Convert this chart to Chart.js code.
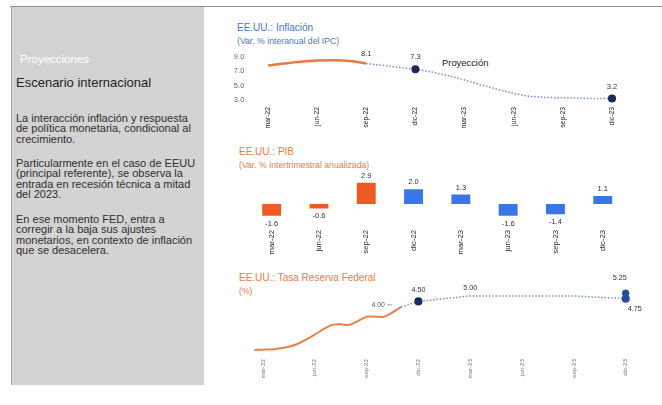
<!DOCTYPE html>
<html lang="es">
<head>
<meta charset="utf-8">
<script src="https://cdn.jsdelivr.net/npm/chart.js@4/dist/chart.umd.min.js"></script>
<style>
  html, body { margin: 0; padding: 0; }
  body { width: 662px; height: 405px; background: #fff; position: relative; overflow: hidden;
         font-family: "Liberation Sans", Arial, sans-serif; }
  .topline { position: absolute; left: 10px; top: 6px; width: 652px; height: 1px; background: #8e8e8e; }
  .panel { position: absolute; left: 11px; top: 7px; width: 192px; height: 378px; background: #d3d3d3;
           border-left: 1px solid #a8a8a8; }
  .txt { position: absolute; white-space: nowrap; }
  .kicker { left: 20px; top: 52px; font-size: 11.5px; line-height: 14px; color: #fff; }
  .heading { left: 16px; top: 75px; font-size: 13px; line-height: 16px; color: #222; }
  .para { left: 16px; font-size: 11px; line-height: 10.6px; color: #2e2e2e; }
  .ctitle { font-size: 10px; line-height: 12px; }
  .csub { font-size: 8.7px; line-height: 10px; }
  .blue { color: #4a78c2; }
  .orange { color: #ee7a3c; }
  canvas { position: absolute; }
</style>
</head>
<body>
<div class="topline"></div>
<div class="panel"></div>
<div class="txt kicker">Proyecciones</div>
<div class="txt heading">Escenario internacional</div>
<div class="txt para" style="top:112.5px">La interacción inflación y respuesta<br>de política monetaria, condicional al<br>crecimiento.</div>
<div class="txt para" style="top:157.5px">Particularmente en el caso de EEUU<br>(principal referente), se observa la<br>entrada en recesión técnica a mitad<br>del 2023.</div>
<div class="txt para" style="top:213.5px">En ese momento FED, entra a<br>corregir a la baja sus ajustes<br>monetarios, en contexto de inflación<br>que se desacelera.</div>

<div class="txt ctitle blue" style="left:237px;top:22px">EE.UU.: Inflación</div>
<div class="txt csub blue" style="left:237px;top:36px">(Var. % interanual del IPC)</div>
<div class="txt" style="left:442px;top:57px;font-size:9.4px;line-height:12px;color:#222">Proyección</div>

<div class="txt ctitle orange" style="left:239px;top:146px">EE.UU.: PIB</div>
<div class="txt csub orange" style="left:239px;top:160px">(Var. % intertrimestral anualizada)</div>

<div class="txt ctitle orange" style="left:239px;top:272px">EE.UU.: Tasa Reserva Federal</div>
<div class="txt csub orange" style="left:239px;top:286px">(%)</div>

<canvas id="cInfl" width="430" height="94" style="left:215px;top:46px"></canvas>
<canvas id="cPib" width="430" height="96" style="left:215px;top:170px"></canvas>
<canvas id="cFed" width="430" height="124" style="left:215px;top:262px"></canvas>

<script>
// ---- shared quarter axis (months counted from mar-22) ----
const quarterLabels = ['mar-22', 'jun-22', 'sep-22', 'dic-22', 'mar-23', 'jun-23', 'sep-23', 'dic-23'];
const quarterMonths = [0, 3, 6, 9, 12, 15, 18, 21];

// ---- US inflation, % y/y CPI ----
const inflActualMonths = [0, 1, 2, 3, 4, 5, 6];
const inflActual       = [7.8, 8.1, 8.35, 8.5, 8.55, 8.45, 8.1];
const inflActualLabels = [null, null, null, null, null, null, '8.1'];
const inflProjMonths   = [6, 9, 10, 11, 12, 13, 14, 15, 16, 17, 18, 19, 20, 21];
const inflProj         = [8.1, 7.3, 6.9, 6.4, 5.8, 5.1, 4.5, 3.9, 3.5, 3.35, 3.3, 3.25, 3.2, 3.2];
const inflProjLabels   = [null, '7.3', null, null, null, null, null, null, null, null, null, null, null, '3.2'];
const inflMarkerMonths = [9, 21];
const inflTicks        = [3, 5, 7, 9];

// ---- US GDP, % q/q annualised ----
const gdpValues = [-1.6, -0.6, 2.9, 2.0, 1.3, -1.6, -1.4, 1.1];
const gdpIsProjection = [false, false, false, true, true, true, true, true];

// ---- Fed funds rate, % ----
const fedActualMonths = [-0.5, 0, 0.5, 1, 1.5, 2, 2.5, 3, 3.5, 4, 4.5, 5, 5.5, 6, 6.5, 7, 7.5, 8];
const fedActual       = [0.05, 0.08, 0.1, 0.2, 0.35, 0.6, 1.0, 1.45, 1.95, 2.35, 2.4, 2.35, 2.7, 3.1, 3.1, 3.1, 3.5, 4.0];
const fedProjMonths   = [8, 9, 12, 15, 18, 21];
const fedProj         = [4.0, 4.5, 5.0, 5.0, 5.0, 4.75];
const fedProjLabels   = [null, '4.50', '5.00', null, null, '4.75'];
const fedMarkerMonths = [9, 21];
const fedAltMonths    = [21];
const fedAlt          = [5.25];
const fedAltLabels    = ['5.25'];

const ORANGE = '#ea7a43';
const DOT_BLUE = '#6f93cf';
const NAVY = '#1b2a60';
const FONT = '"Liberation Sans", Arial, sans-serif';

const toXY = (xs, ys) => xs.map((x, i) => ({ x, y: ys[i] }));
const quarterTick = v => { const i = quarterMonths.indexOf(v); return i >= 0 ? quarterLabels[i] : ''; };

// Writes the value text attached to each labelled point or bar.
const valueLabels = {
  id: 'valueLabels',
  afterDatasetsDraw(chart) {
    const ctx = chart.ctx;
    chart.data.datasets.forEach((ds, di) => {
      if (!ds.valueLabels) return;
      const meta = chart.getDatasetMeta(di);
      const st = ds.labelStyle || {};
      ds.valueLabels.forEach((txt, i) => {
        if (!txt) return;
        const el = meta.data[i];
        const raw = ds.data[i];
        const v = typeof raw === 'object' ? raw.y : raw;
        let dx = st.dx || 0, dy;
        if (st.place === 'auto') dy = v < 0 ? st.below : st.above;
        else dy = st.dy || 0;
        const ov = st.overrides && st.overrides[i];
        if (ov) { dx = ov.dx; dy = ov.dy; }
        ctx.save();
        ctx.font = (st.size || 7.5) + 'px ' + FONT;
        ctx.fillStyle = st.color || '#333';
        ctx.textAlign = (ov && ov.align) || st.align || 'center';
        ctx.textBaseline = 'middle';
        ctx.fillText(txt, el.x + dx, el.y + dy);
        if (ov && ov.dash) {
          ctx.strokeStyle = '#888';
          ctx.lineWidth = 0.8;
          ctx.beginPath();
          ctx.moveTo(el.x + ov.dash[0], el.y + dy);
          ctx.lineTo(el.x + ov.dash[1], el.y + dy);
          ctx.stroke();
        }
        ctx.restore();
      });
    });
  }
};

const fixedHeight = h => scale => { scale.height = h; };
const fixedWidth = w => scale => { scale.width = w; };
const quarterTickList = scale => { scale.ticks = quarterMonths.map(v => ({ value: v })); };

// ---------- Inflation ----------
new Chart(document.getElementById('cInfl'), {
  type: 'line',
  data: {
    datasets: [
      {
        data: toXY(inflActualMonths, inflActual),
        borderColor: ORANGE, borderWidth: 2.5, tension: 0.4, pointRadius: 0, clip: false,
        valueLabels: inflActualLabels,
        labelStyle: { dy: -10, size: 7.5, color: '#333' }
      },
      {
        data: toXY(inflProjMonths, inflProj),
        borderColor: DOT_BLUE, borderWidth: 1.5, borderDash: [1.5, 1.8], tension: 0, clip: false,
        pointRadius: c => inflMarkerMonths.includes(inflProjMonths[c.dataIndex]) ? 3.3 : 0,
        pointBackgroundColor: NAVY, pointBorderColor: NAVY,
        valueLabels: inflProjLabels,
        labelStyle: { dy: -12, size: 7.5, color: '#333' }
      }
    ]
  },
  options: {
    responsive: false, animation: false, events: [],
    layout: { padding: { top: 11, bottom: 0, left: 0, right: 16.6 } },
    plugins: { legend: { display: false }, tooltip: { enabled: false } },
    scales: {
      x: {
        type: 'linear', min: -1.2, max: 22,
        afterBuildTicks: quarterTickList, afterFit: fixedHeight(40),
        grid: { display: false, drawTicks: false }, border: { display: false },
        ticks: { callback: quarterTick, autoSkip: false, minRotation: 90, maxRotation: 90, padding: 7,
                 font: { size: 6.8, family: FONT }, color: '#222' }
      },
      y: {
        min: 3, max: 9,
        afterBuildTicks: s => { s.ticks = inflTicks.map(v => ({ value: v })); },
        afterFit: fixedWidth(33.3),
        grid: { display: false, drawTicks: false }, border: { display: false },
        ticks: { callback: v => v.toFixed(1), padding: 4, font: { size: 7.5, family: FONT }, color: '#666' }
      }
    }
  },
  plugins: [valueLabels]
});

// ---------- GDP ----------
new Chart(document.getElementById('cPib'), {
  type: 'bar',
  data: {
    labels: quarterLabels,
    datasets: [{
      data: gdpValues,
      backgroundColor: gdpIsProjection.map(p => p ? '#3a77e6' : '#f15a24'),
      barPercentage: 0.4, categoryPercentage: 1.0,
      valueLabels: gdpValues.map(v => v.toFixed(1)),
      labelStyle: { place: 'auto', above: -7, below: 8, size: 7.5, color: '#333' }
    }]
  },
  options: {
    responsive: false, animation: false, events: [],
    layout: { padding: { top: 8.3, bottom: 0, left: 33, right: 18.6 } },
    plugins: { legend: { display: false }, tooltip: { enabled: false } },
    scales: {
      x: {
        afterFit: fixedHeight(42.2),
        grid: { display: false, drawTicks: false }, border: { display: false },
        ticks: { autoSkip: false, minRotation: 90, maxRotation: 90, padding: 6,
                 font: { size: 7.8, family: FONT }, color: '#2a2a2a' }
      },
      y: { display: false, min: -2.7, max: 3.5 }
    }
  },
  plugins: [valueLabels]
});

// ---------- Fed funds ----------
new Chart(document.getElementById('cFed'), {
  type: 'line',
  data: {
    datasets: [
      {
        data: toXY(fedActualMonths, fedActual),
        borderColor: '#e8804e', borderWidth: 2, tension: 0.3, pointRadius: 0, clip: false,
        valueLabels: fedActual.map((v, i) => i === fedActual.length - 1 ? v.toFixed(2) : null),
        labelStyle: { size: 6.8, color: '#555',
                      overrides: { [fedActual.length - 1]: { dx: -23, dy: -2, align: 'center', dash: [-14, -9] } } }
      },
      {
        data: toXY(fedProjMonths, fedProj),
        borderColor: DOT_BLUE, borderWidth: 1.5, borderDash: [1.5, 1.8], tension: 0, clip: false,
        pointRadius: c => fedMarkerMonths.includes(fedProjMonths[c.dataIndex]) ? 3.3 : 0,
        pointBackgroundColor: c => fedProjMonths[c.dataIndex] === 21 ? '#264c9e' : NAVY,
        pointBorderColor: c => fedProjMonths[c.dataIndex] === 21 ? '#264c9e' : NAVY,
        valueLabels: fedProjLabels,
        labelStyle: { dy: -11, size: 7.2, color: '#333',
                      overrides: { 2: { dx: 0, dy: -8 }, 5: { dx: 9, dy: 10 } } }
      },
      {
        data: toXY(fedAltMonths, fedAlt),
        showLine: false, clip: false,
        pointRadius: 3.3, pointBackgroundColor: '#264c9e', pointBorderColor: '#264c9e',
        valueLabels: fedAltLabels,
        labelStyle: { dx: -6, dy: -15, size: 7.2, color: '#333' }
      }
    ]
  },
  options: {
    responsive: false, animation: false, events: [],
    layout: { padding: { top: 28.5, bottom: 0, left: 34.1, right: 2.7 } },
    plugins: { legend: { display: false }, tooltip: { enabled: false } },
    scales: {
      x: {
        type: 'linear', min: -0.8, max: 21.8,
        afterBuildTicks: quarterTickList, afterFit: fixedHeight(35.5),
        grid: { display: false, drawTicks: false }, border: { display: false },
        ticks: { callback: quarterTick, autoSkip: false, minRotation: 90, maxRotation: 90, padding: 8.5,
                 font: { size: 6.2, family: FONT }, color: '#777' }
      },
      y: { display: false, min: 0, max: 5.5 }
    }
  },
  plugins: [valueLabels]
});
</script>
</body>
</html>
